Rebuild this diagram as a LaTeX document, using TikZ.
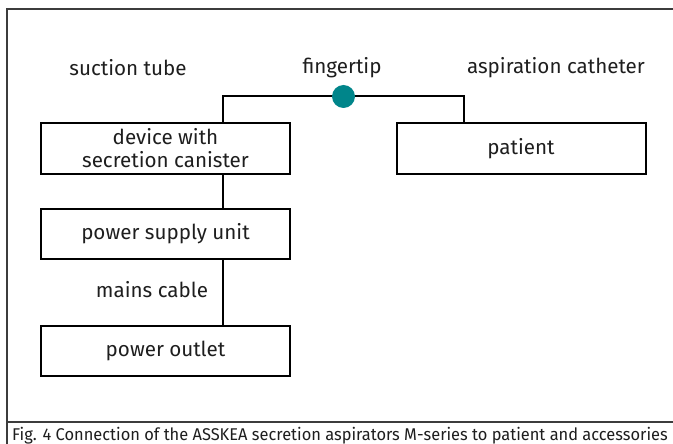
\documentclass[tikz,border=0pt]{standalone}
\usepackage{fontspec}
\setmainfont{Fira Sans}
\definecolor{teal1}{RGB}{0,133,138}
\definecolor{txt}{RGB}{30,30,30}
\definecolor{frm}{RGB}{60,60,60}
\begin{document}
\begin{tikzpicture}[x=1pt,y=-1pt,
  blk/.style={draw=black,line width=2pt,minimum width=249pt,minimum height=50pt,inner sep=0pt,align=center,font=\fontsize{20.6}{23}\selectfont,text=txt},
  lbl/.style={font=\fontsize{20.6}{23}\selectfont,text=txt,inner sep=0pt},
  conn/.style={line width=2pt,draw=black},
  frame/.style={line width=1.4pt,draw=frm}]
\useasboundingbox (0,0) rectangle (673,444);
\clip (0,0) rectangle (673,444);
\fill[white] (0,0) rectangle (673,444);
\draw[frame] (7,460) -- (7,9) -- (690,9);
\draw[frame] (7,422) -- (690,422);
\node[blk] (dev) at (165.5,148.5) {device with\\secretion canister};
\node[blk] (psu) at (165.5,234) {power supply unit};
\node[blk] (out) at (165.5,350.5) {power outlet};
\node[blk] (pat) at (521,148.5) {patient};
\node[lbl] (st) at (128,68) {suction tube};
\node[lbl] (ft) at (342,68) {fingertip};
\node[lbl] (ac) at (556,68) {aspiration catheter};
\node[lbl] (mc) at (152,290) {mains cable};
\coordinate (tl) at (223,96);
\coordinate (tr) at (464,96);
\draw[conn] (dev.north -| tl) -- (tl) -- (tr) -- (pat.north -| tr);
\draw[conn] (dev.south -| tl) -- (psu.north -| tl);
\draw[conn] (psu.south -| tl) -- (out.north -| tl);
\node[circle,fill=teal1,minimum size=23pt,inner sep=0pt] (dot) at (343.5,96.5) {};
\node[anchor=base west,inner sep=0pt,font=\fontsize{17}{18}\selectfont,text=txt] (cap) at (12,440) {\scalebox{0.966}[1]{Fig. 4 Connection of the ASSKEA secretion aspirators M-series to patient and accessories}};
\end{tikzpicture}
\end{document}
